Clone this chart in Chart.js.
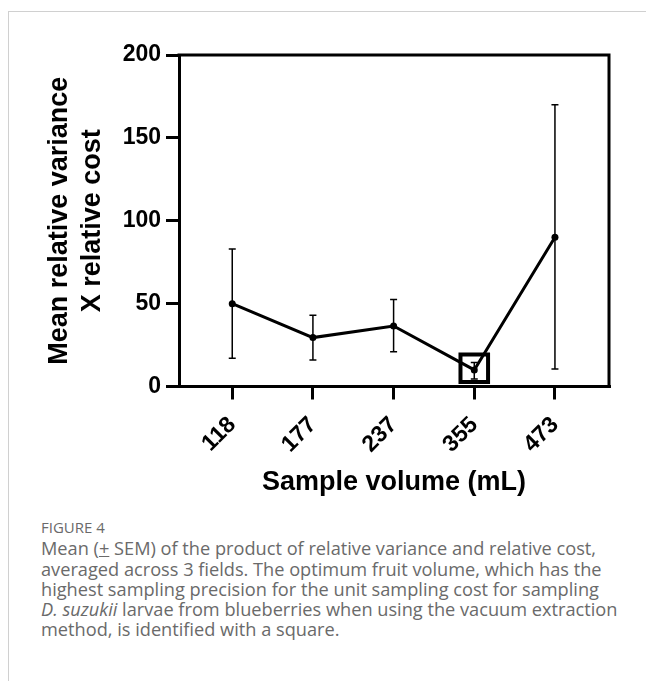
<!DOCTYPE html>
<html>
<head>
<meta charset="utf-8">
<script src="https://cdn.jsdelivr.net/npm/chart.js@4"></script>
<style>
    body { margin: 0; background: #fff; width: 646px; height: 681px; overflow: hidden; position: relative; }
    .card { position: absolute; left: 8px; top: 11px; right: 0; bottom: 0; border-left: 1px solid #d0d0d0; border-top: 1px solid #d0d0d0; }
    #chart { position: absolute; left: 0; top: 0; }
    .caption { position: absolute; left: 41px; top: 517px; color: #6a6a6a; font-family: "Open Sans", sans-serif; font-size: 18.2px; line-height: 20.3px; white-space: nowrap; }
    .caption .fig { font-size: 15px; margin-bottom: 1px; }
</style>
</head>
<body>
<div class="card"></div>
<canvas id="chart" width="646" height="500"></canvas>
<div class="caption">
    <div class="fig">FIGURE 4</div>
    Mean (<u>+</u> SEM) of the product of relative variance and relative cost,<br>
    averaged across 3 fields. The optimum fruit volume, which has the<br>
    highest sampling precision for the unit sampling cost for sampling<br>
    <i>D. suzukii</i> larvae from blueberries when using the vacuum extraction<br>
    method, is identified with a square.
</div>
<script>
const volumes = ['118', '177', '237', '355', '473'];
const meanValues = [50, 29.5, 36.5, 10, 90];
const semLow = [17, 16, 21, 4.5, 10.5];
const semHigh = [83, 43, 52.5, 14.5, 170];
const optimumMarker = [null, null, null, 11, null];
const yTicks = [0, 50, 100, 150, 200];

const fontFamily = '"Liberation Sans", Arial, sans-serif';

// error bars under the line
const errorBars = {
    id: 'errorBars',
    beforeDatasetsDraw(chart) {
        const ctx = chart.ctx;
        const meta = chart.getDatasetMeta(0);
        const y = chart.scales.y;
        ctx.save();
        ctx.strokeStyle = '#000';
        ctx.lineWidth = 1.5;
        meta.data.forEach((pt, i) => {
            const top = y.getPixelForValue(semHigh[i]);
            const bot = y.getPixelForValue(semLow[i]);
            ctx.beginPath();
            ctx.moveTo(pt.x, top);
            ctx.lineTo(pt.x, bot);
            ctx.moveTo(pt.x - 3.5, top);
            ctx.lineTo(pt.x + 3.5, top);
            ctx.moveTo(pt.x - 3.5, bot);
            ctx.lineTo(pt.x + 3.5, bot);
            ctx.stroke();
        });
        ctx.restore();
    }
};

// top and right sides of the box
const frame = {
    id: 'frame',
    afterDraw(chart) {
        const {left, top, right, bottom} = chart.chartArea;
        const ctx = chart.ctx;
        ctx.save();
        ctx.strokeStyle = '#000';
        ctx.lineWidth = 3;
        ctx.beginPath();
        ctx.moveTo(left - 1.5, top);
        ctx.lineTo(right, top);
        ctx.lineTo(right, bottom + 1.5);
        ctx.stroke();
        ctx.restore();
    }
};

new Chart(document.getElementById('chart'), {
    type: 'line',
    data: {
        datasets: [{
            data: volumes.map((v, i) => ({x: i, y: meanValues[i]})),
            borderColor: '#000',
            borderWidth: 3,
            pointRadius: 3.5,
            pointBackgroundColor: '#000',
            pointBorderWidth: 0,
            tension: 0
        }, {
            data: optimumMarker.map((v, i) => ({x: i, y: v})),
            showLine: false,
            pointStyle: 'rect',
            pointRadius: 19.5,
            pointBorderWidth: 4,
            pointBorderColor: '#000',
            pointBackgroundColor: 'rgba(0,0,0,0)'
        }]
    },
    options: {
        responsive: false,
        animation: false,
        devicePixelRatio: 1,
        layout: {autoPadding: false, padding: {top: 55, right: 37, left: 0, bottom: 0}},
        plugins: {legend: {display: false}, tooltip: {enabled: false}},
        scales: {
            x: {
                type: 'linear',
                min: -0.66,
                max: 4.67,
                afterBuildTicks: s => { s.ticks = volumes.map((v, i) => ({value: i})); },
                afterFit: s => { s.height = 113.5; },
                ticks: {
                    callback: v => volumes[v],
                    font: {family: fontFamily, weight: 'bold', size: 23},
                    color: '#000',
                    minRotation: 45,
                    maxRotation: 45,
                    autoSkip: false,
                    padding: 12
                },
                grid: {drawOnChartArea: false, drawTicks: true, tickLength: 13, lineWidth: 3, tickWidth: 3, color: '#000'},
                border: {display: true, color: '#000', width: 3},
                title: {
                    display: true,
                    text: 'Sample volume (mL)',
                    font: {family: fontFamily, weight: 'bold', size: 27},
                    color: '#000',
                    padding: {top: 0, bottom: 1}
                }
            },
            y: {
                min: 0,
                max: 200,
                afterBuildTicks: s => { s.ticks = yTicks.map(v => ({value: v})); },
                afterFit: s => { s.width = 179; },
                ticks: {
                    font: {family: fontFamily, weight: 'bold', size: 23},
                    color: '#000',
                    padding: 5
                },
                grid: {drawOnChartArea: false, drawTicks: true, tickLength: 13, lineWidth: 3, tickWidth: 3, color: '#000'},
                border: {display: true, color: '#000', width: 3},
                title: {
                    display: true,
                    text: ['Mean relative variance', 'X relative cost'],
                    font: {family: fontFamily, weight: 'bold', size: 27, lineHeight: 1.22},
                    color: '#000',
                    padding: {top: 43.5, bottom: 0}
                }
            }
        }
    },
    plugins: [errorBars, frame]
});
</script>
</body>
</html>
